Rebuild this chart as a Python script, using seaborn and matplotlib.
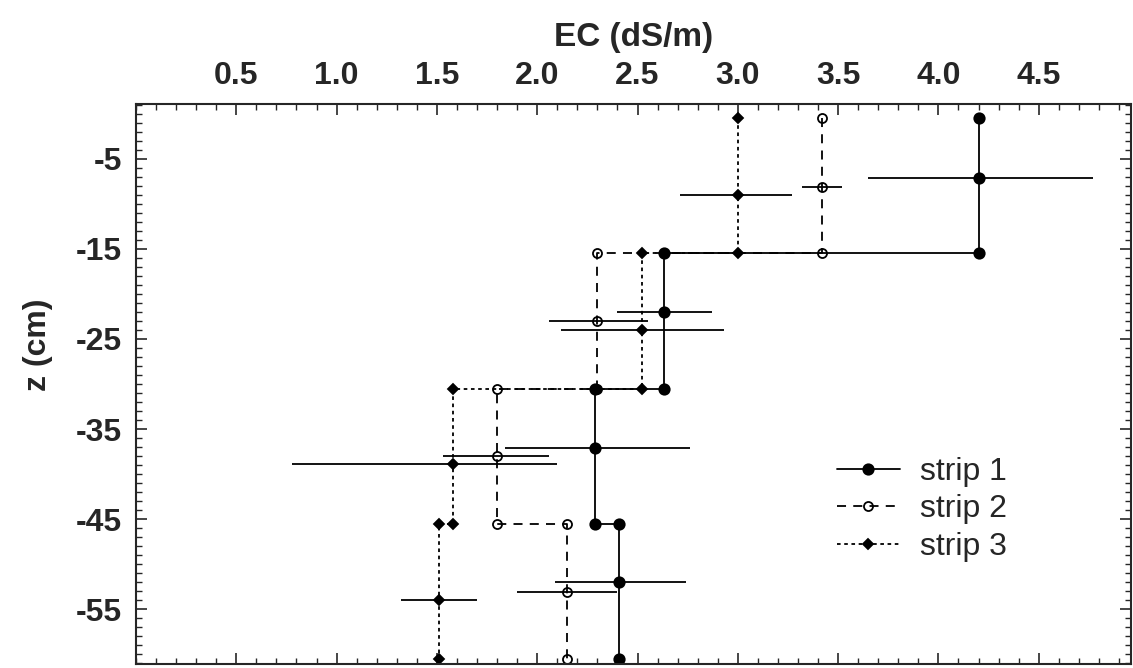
import matplotlib
matplotlib.use("Agg")
import matplotlib.pyplot as plt
from matplotlib.lines import Line2D
from matplotlib.ticker import MultipleLocator
import numpy as np
import pandas as pd
import seaborn as sns

# layer boundaries (cm)
layer_top = [-0.5, -15.5, -30.5, -45.5]
layer_bot = [-15.5, -30.5, -45.5, -60.5]

# EC of each layer (dS/m)
ec_strip1 = [4.20, 2.63, 2.29, 2.41]
ec_strip2 = [3.42, 2.30, 1.80, 2.15]
ec_strip3 = [3.00, 2.52, 1.58, 1.51]

# depth of the measurement point in each layer and its range
z_strip1 = [-7.1, -22.0, -37.1, -52.0]
z_strip2 = [-8.1, -23.0, -38.0, -53.1]
z_strip3 = [-9.0, -24.0, -38.9, -54.0]
lo_strip1 = [3.65, 2.40, 1.84, 2.09]
hi_strip1 = [4.77, 2.87, 2.76, 2.74]
lo_strip2 = [3.32, 2.06, 1.53, 1.90]
hi_strip2 = [3.52, 2.55, 2.06, 2.40]
lo_strip3 = [2.71, 2.12, 0.78, 1.32]
hi_strip3 = [3.27, 2.93, 2.10, 1.70]

labels = ["strip 1", "strip 2", "strip 3"]
xticks = [0.5, 1.0, 1.5, 2.0, 2.5, 3.0, 3.5, 4.0, 4.5]
yticks = [-5, -15, -25, -35, -45, -55]

sns.set_style("ticks")
plt.rcParams['font.family'] = ['Liberation Sans', 'DejaVu Sans']
plt.rcParams['axes.unicode_minus'] = False

fig = plt.figure(figsize=(11.33, 6.68), dpi=100)
ax = fig.add_axes([136 / 1133, 4 / 668, 995 / 1133, 560 / 668])

# step profiles
rows = []
for name, ec in zip(labels, [ec_strip1, ec_strip2, ec_strip3]):
    for i in range(len(ec)):
        rows.append({"strip": name, "ec": ec[i], "z": layer_top[i]})
        rows.append({"strip": name, "ec": ec[i], "z": layer_bot[i]})
df = pd.DataFrame(rows)

styles = {
    "strip 1": dict(linestyle="-", marker="o", ms=7.5, mfc="black"),
    "strip 2": dict(linestyle=(0, (5, 4)), marker="o", ms=6.5, mfc="none"),
    "strip 3": dict(linestyle=(0, (2, 2)), marker="D", ms=5.5, mfc="black"),
}

for name in labels:
    st = styles[name]
    sns.lineplot(data=df[df.strip == name], x="ec", y="z", sort=False, estimator=None,
                 ax=ax, color="black", lw=1.3, linestyle=st["linestyle"],
                 marker=st["marker"], ms=st["ms"], mfc=st["mfc"], mec="black", mew=1.3)

# measurement points with horizontal range bars
for name, ec, z, lo, hi in zip(labels,
                               [ec_strip1, ec_strip2, ec_strip3],
                               [z_strip1, z_strip2, z_strip3],
                               [lo_strip1, lo_strip2, lo_strip3],
                               [hi_strip1, hi_strip2, hi_strip3]):
    st = styles[name]
    ec = np.array(ec)
    ax.errorbar(ec, z, xerr=[ec - np.array(lo), np.array(hi) - ec], fmt=st["marker"],
                color="black", ms=st["ms"], mfc=st["mfc"], mec="black", mew=1.3,
                elinewidth=1.3, capsize=0)

ax.set_xlim(0, 4.96)
ax.set_ylim(-61.1, 1.1)

ax.xaxis.tick_top()
ax.xaxis.set_label_position("top")
ax.set_xticks(xticks)
ax.set_xticklabels([f"{t:.1f}" for t in xticks])
ax.xaxis.set_minor_locator(MultipleLocator(0.1))
ax.set_yticks(yticks)
ax.set_yticklabels([str(t) for t in yticks])
ax.yaxis.set_minor_locator(MultipleLocator(1))

ax.tick_params(axis="both", which="both", direction="in", top=True, bottom=True,
               left=True, right=True, labelbottom=False, labeltop=True, labelright=False)
ax.tick_params(which="major", length=8, width=1.2)
ax.tick_params(which="minor", length=4, width=1.0)
ax.tick_params(axis="x", pad=9)
ax.tick_params(axis="y", pad=10)
for lab in ax.get_xticklabels() + ax.get_yticklabels():
    lab.set_fontsize(23)
    lab.set_fontweight("bold")
for sp in ax.spines.values():
    sp.set_linewidth(1.5)

ax.set_xlabel("EC (dS/m)", fontsize=24, fontweight="bold", labelpad=11)
ax.set_ylabel("z (cm)", fontsize=23, fontweight="bold")
ax.yaxis.set_label_coords(-0.083, 0.57)

handles = [Line2D([], [], color="black", lw=1.3, linestyle=styles[n]["linestyle"],
                  marker=styles[n]["marker"], ms=styles[n]["ms"], mfc=styles[n]["mfc"],
                  mec="black", mew=1.3) for n in labels]
ax.legend(handles, labels, loc="upper left", bbox_to_anchor=(837 / 1133, 1 - 457 / 668),
          bbox_transform=fig.transFigure, frameon=False, fontsize=23, handlelength=1.97,
          handletextpad=0.63, labelspacing=0.23, borderpad=0, borderaxespad=0)

fig.savefig("out.png", dpi=100)
